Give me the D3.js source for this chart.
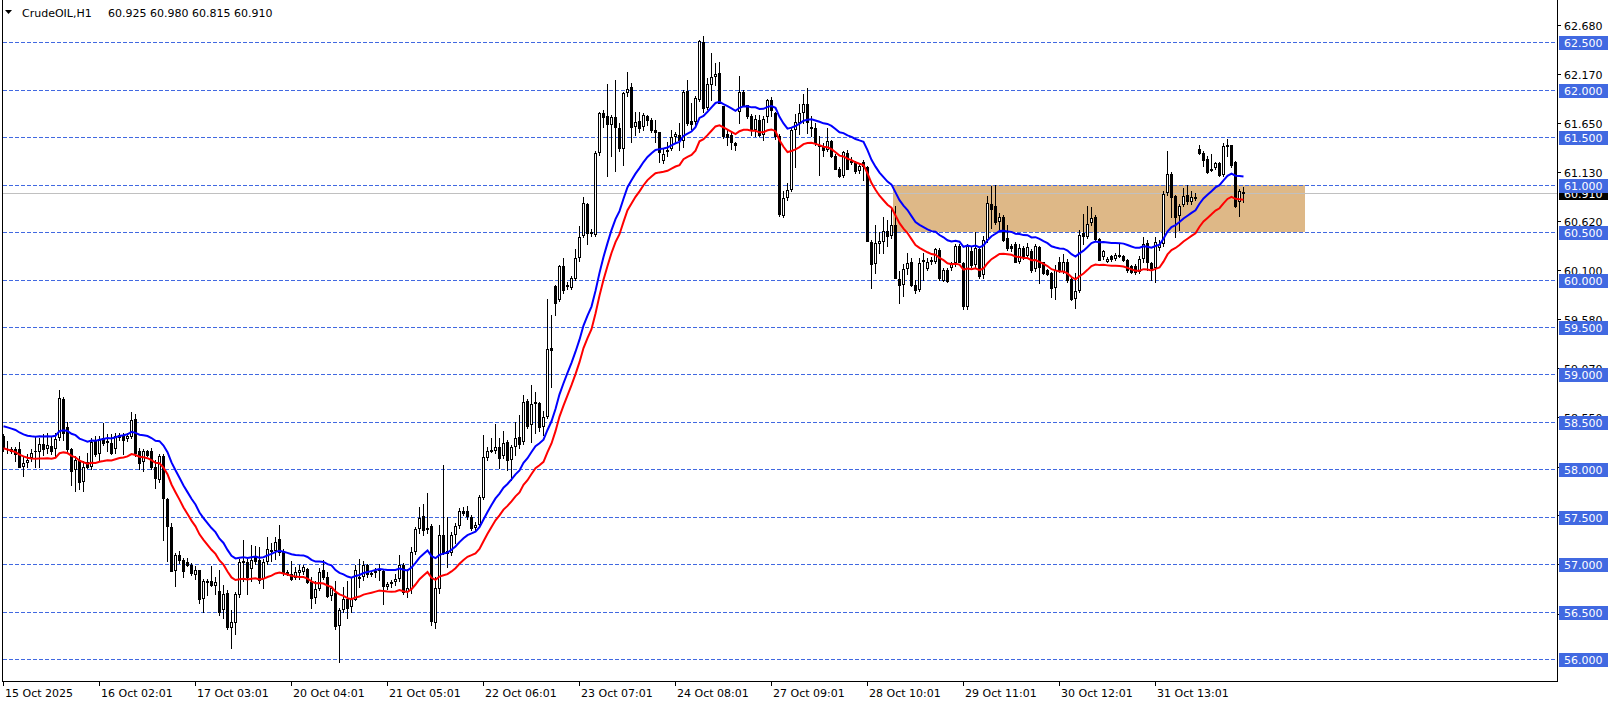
<!DOCTYPE html>
<html><head><meta charset="utf-8">
<script src="https://cdn.jsdelivr.net/npm/d3@7"></script>
<style>
html,body{margin:0;padding:0;background:#fff;overflow:hidden;}
svg{display:block;}
text{font-family:"DejaVu Sans",Verdana,sans-serif;font-size:11px;}
</style></head><body>
<svg id="chart" width="1614" height="705"></svg>
<script>
// ---------------- data ----------------
const symbolTitle = "CrudeOIL,H1";
const lastQuote = "60.925 60.980 60.815 60.910";

const opens = [
58.35,58.22,58.21,58.21,58.21,58.03,58.07,58.12,58.19,58.18,
58.27,58.22,58.25,58.22,58.33,58.74,58.45,58.22,57.99,58.10,
57.87,58.08,58.03,58.31,58.16,58.33,58.28,58.28,58.22,58.33,
58.35,58.32,58.34,58.53,58.19,58.08,58.19,58.19,58.02,57.89,
58.14,57.69,57.39,56.93,57.10,57.05,57.02,56.99,56.89,56.94,
56.63,56.82,56.82,56.77,56.72,56.52,56.70,56.33,56.38,56.68,
57.03,57.02,56.95,57.08,57.05,56.84,57.02,57.15,57.14,57.27,
57.13,56.92,56.90,56.86,56.91,56.92,56.95,56.81,56.65,56.74,
56.94,56.87,56.67,56.70,56.35,56.52,56.63,56.55,56.62,56.85,
56.87,56.99,56.90,56.92,56.93,56.93,56.76,56.79,56.81,56.84,
56.99,56.71,56.74,57.13,57.37,57.51,57.37,57.40,56.38,56.74,
57.31,57.14,57.12,57.31,57.40,57.56,57.56,57.50,57.38,57.41,
57.70,58.12,58.19,58.19,58.24,58.14,58.29,58.10,58.24,58.34,
58.29,58.72,58.47,58.69,58.70,58.45,58.55,59.28,59.93,59.78,
60.14,59.94,59.91,60.01,60.23,60.46,60.80,60.48,60.47,61.33,
61.75,61.72,61.63,61.71,61.60,61.38,61.97,62.03,61.61,61.67,
61.61,61.72,61.68,61.58,61.55,61.25,61.35,61.38,61.50,61.52,
61.46,61.99,61.67,61.66,61.89,62.50,61.81,62.05,62.13,62.18,
61.83,61.53,61.52,61.44,61.77,61.98,61.84,61.72,61.58,61.68,
61.52,61.71,61.89,61.76,61.51,60.67,60.86,60.94,61.58,61.65,
61.75,61.85,61.61,61.60,61.42,61.41,61.37,61.46,61.30,61.17,
61.09,61.33,61.25,61.24,61.14,61.24,61.19,60.40,60.16,60.38,
60.40,60.51,60.46,60.58,60.01,59.94,60.11,60.18,59.94,59.89,
60.18,60.11,60.18,60.19,60.31,59.99,60.10,60.12,60.17,60.35,
60.17,59.71,60.30,60.15,60.32,60.05,60.42,60.80,60.77,60.61,
60.66,60.44,60.35,60.37,60.18,60.33,60.25,60.30,60.11,60.34,
60.18,60.10,60.07,59.91,60.19,60.08,60.18,60.01,59.79,59.88,
60.49,60.45,60.60,60.66,60.43,60.24,60.19,60.25,60.22,60.26,
60.25,60.21,60.14,60.14,60.08,60.22,60.39,60.17,60.12,60.33,
60.37,60.91,61.11,60.88,60.67,60.79,60.89,60.82,60.86,61.38,
61.33,61.27,61.15,61.18,61.23,61.10,61.41,61.42,61.24,60.82,60.925
];
const highs = [
58.37,58.30,58.24,58.24,58.29,58.14,58.16,58.21,58.35,58.33,
58.37,58.38,58.35,58.38,58.84,58.76,58.50,58.23,58.14,58.14,
58.09,58.17,58.33,58.35,58.35,58.49,58.37,58.37,58.38,58.38,
58.38,58.38,58.60,58.58,58.23,58.21,58.20,58.23,58.10,58.16,
58.16,57.70,57.44,57.12,57.14,57.07,57.07,57.01,56.98,56.94,
56.84,56.84,56.98,56.87,56.94,56.78,56.73,56.52,56.71,57.06,
57.26,57.06,57.20,57.19,57.18,57.06,57.29,57.22,57.29,57.41,
57.16,56.94,57.03,56.97,56.99,56.99,56.96,56.87,56.82,56.96,
57.05,56.92,56.76,56.82,56.54,56.76,56.82,56.87,56.99,57.06,
57.03,57.00,56.93,56.96,57.00,56.94,56.81,56.83,56.90,57.10,
57.01,56.95,57.18,57.39,57.60,57.64,57.75,57.42,56.87,57.41,
58.05,57.50,57.34,57.43,57.59,57.60,57.61,57.52,57.45,57.73,
58.36,58.24,58.33,58.48,58.33,58.40,58.31,58.26,58.50,58.57,
58.78,58.74,58.89,58.82,58.71,58.61,59.80,59.63,59.94,60.15,
60.23,59.97,60.04,60.32,60.56,60.87,60.81,60.53,61.35,61.77,
61.79,62.06,61.73,62.10,61.65,61.98,62.19,62.07,61.77,61.77,
61.76,61.73,61.70,61.68,61.56,61.38,61.45,61.58,61.56,61.65,
62.00,62.10,61.86,61.93,62.52,62.57,62.12,62.39,62.28,62.29,
61.83,61.58,61.56,61.45,62.14,62.00,61.84,61.74,61.73,61.73,
61.72,61.90,61.92,61.77,61.53,60.93,61.02,61.60,61.74,61.85,
61.96,62.02,61.72,61.65,61.51,61.44,61.60,61.47,61.32,61.19,
61.35,61.36,61.29,61.25,61.22,61.26,61.20,60.42,60.58,60.50,
60.66,60.63,60.75,60.77,60.09,60.16,60.28,60.23,60.00,60.23,
60.28,60.23,60.24,60.33,60.33,60.12,60.12,60.19,60.38,60.38,
60.18,60.38,60.34,60.50,60.33,60.46,60.88,60.99,61.00,60.70,
60.68,60.57,60.38,60.40,60.37,60.35,60.39,60.32,60.38,60.35,
60.19,60.11,60.08,60.15,60.24,60.27,60.22,60.03,60.07,60.52,
60.69,60.77,60.76,60.68,60.44,60.31,60.24,60.26,60.28,60.37,
60.26,60.22,60.15,60.16,60.25,60.45,60.42,60.19,60.45,60.42,
60.93,61.35,61.13,60.89,60.80,60.97,61.00,60.93,60.91,61.42,
61.35,61.30,61.32,61.24,61.24,61.44,61.48,61.42,61.25,60.95,60.98
];
const lows = [
58.19,58.17,58.17,58.09,58.02,57.93,58.02,58.09,58.03,58.03,
58.15,58.17,58.16,58.14,58.31,58.31,58.19,57.84,57.77,57.79,
57.77,58.01,58.00,58.14,58.10,58.26,58.19,58.16,58.17,58.31,
58.16,58.30,58.33,58.14,58.00,57.98,58.14,58.00,57.80,57.87,
57.26,57.03,56.93,56.77,57.01,56.87,56.98,56.89,56.84,56.59,
56.50,56.68,56.77,56.69,56.47,56.43,56.32,56.12,56.27,56.66,
56.82,56.69,56.82,57.00,56.80,56.75,57.00,57.03,57.06,57.10,
56.89,56.89,56.83,56.85,56.85,56.90,56.80,56.54,56.59,56.73,
56.85,56.66,56.62,56.32,55.97,56.50,56.43,56.50,56.62,56.76,
56.83,56.87,56.88,56.87,56.83,56.58,56.74,56.76,56.78,56.82,
56.69,56.66,56.70,57.11,57.33,57.31,57.33,56.36,56.33,56.70,
57.11,56.97,57.10,57.22,57.38,57.52,57.48,57.36,57.35,57.40,
57.69,58.10,58.18,58.17,58.01,58.12,57.99,57.89,58.15,58.23,
58.27,58.44,58.29,58.38,58.40,58.36,58.54,58.87,59.63,59.77,
59.86,59.90,59.90,60.00,60.20,60.45,60.37,60.46,60.46,61.31,
61.61,61.09,61.30,61.14,61.35,61.21,61.93,61.45,61.52,61.56,
61.58,61.63,61.56,61.45,61.24,61.23,61.30,61.37,61.44,61.37,
61.40,61.63,61.59,61.63,61.88,61.77,61.80,61.89,62.05,61.86,
61.49,61.42,61.38,61.36,61.65,61.83,61.70,61.52,61.51,61.51,
61.47,61.66,61.72,61.48,60.67,60.66,60.84,60.93,61.19,61.53,
61.65,61.54,61.51,61.42,61.10,61.30,61.35,61.29,61.16,61.08,
61.08,61.16,61.22,61.12,61.12,61.05,60.41,59.91,60.07,60.28,
60.28,60.35,60.44,60.02,59.75,59.83,60.06,59.93,59.86,59.88,
60.00,60.10,60.16,60.17,60.00,59.98,59.97,60.10,60.14,60.18,
59.69,59.69,60.13,60.12,60.02,60.02,60.40,60.54,60.59,60.52,
60.41,60.31,60.30,60.18,60.17,60.22,60.23,60.08,60.09,59.96,
60.06,60.05,59.82,59.80,60.08,60.07,59.97,59.78,59.70,59.87,
60.37,60.44,60.58,60.42,60.21,60.22,60.18,60.20,60.21,60.24,
60.20,60.08,60.07,60.06,60.07,60.19,60.10,60.00,59.97,60.31,
60.35,60.89,60.66,60.45,60.52,60.77,60.80,60.80,60.84,61.32,
61.20,61.12,61.14,61.16,61.09,61.09,61.30,61.19,60.76,60.67,60.815
];
const closes = [
58.23,58.21,58.19,58.16,58.02,58.07,58.10,58.17,58.19,58.27,
58.22,58.26,58.19,58.32,58.75,58.38,58.22,57.98,58.10,57.87,
58.03,58.03,58.29,58.16,58.31,58.28,58.30,58.17,58.35,58.36,
58.31,58.35,58.52,58.17,58.07,58.19,58.15,58.02,57.91,58.14,
57.70,57.40,56.93,57.10,57.05,56.93,56.99,56.91,56.94,56.63,
56.82,56.81,56.78,56.81,56.50,56.69,56.34,56.39,56.69,57.02,
57.02,56.87,57.04,57.03,56.83,57.02,57.16,57.14,57.23,57.13,
56.92,56.90,56.85,56.92,56.94,56.97,56.81,56.65,56.74,56.92,
56.87,56.67,56.75,56.35,56.52,56.63,56.54,56.63,56.94,56.87,
56.99,56.90,56.91,56.93,56.95,56.77,56.79,56.81,56.84,56.99,
56.71,56.75,57.13,57.37,57.49,57.36,57.38,56.40,56.75,57.31,
57.13,57.12,57.31,57.40,57.56,57.54,57.51,57.38,57.41,57.71,
58.13,58.19,58.20,58.24,58.12,58.28,58.10,58.24,58.33,58.27,
58.71,58.46,58.69,58.71,58.45,58.55,59.27,59.26,59.75,60.14,
59.89,59.93,60.02,60.23,60.45,60.81,60.49,60.50,61.33,61.75,
61.71,61.64,61.71,61.61,61.39,61.97,62.01,61.61,61.66,61.60,
61.73,61.68,61.58,61.56,61.34,61.32,61.37,61.50,61.53,61.47,
61.98,61.65,61.64,61.91,62.51,61.81,62.06,62.13,62.17,61.86,
61.51,61.50,61.45,61.42,61.98,61.84,61.72,61.58,61.69,61.52,
61.69,61.89,61.79,61.51,60.69,60.86,60.94,61.58,61.66,61.75,
61.85,61.66,61.60,61.44,61.41,61.37,61.46,61.30,61.16,61.09,
61.34,61.17,61.24,61.14,61.20,61.20,60.41,60.16,60.39,60.41,
60.51,60.46,60.58,60.02,59.94,60.11,60.17,59.94,59.89,60.17,
60.21,60.19,60.21,60.32,60.02,60.10,59.99,60.17,60.35,60.19,
59.72,60.35,60.15,60.33,60.04,60.42,60.81,60.74,60.61,60.66,
60.42,60.33,60.33,60.18,60.33,60.24,60.34,60.10,60.35,60.13,
60.07,60.06,59.91,60.10,60.10,60.19,60.00,59.79,59.88,60.47,
60.46,60.59,60.65,60.43,60.21,60.30,60.22,60.22,60.26,60.25,
60.21,60.10,60.08,60.08,60.22,60.38,60.19,60.12,60.40,60.38,
60.90,61.11,60.87,60.66,60.78,60.88,60.83,60.87,60.87,61.33,
61.26,61.13,61.17,61.23,61.10,61.41,61.42,61.21,60.77,60.93,60.91
];

// time axis labels and the bar each one belongs to
const timeLabels = ["15 Oct 2025","16 Oct 02:01","17 Oct 03:01","20 Oct 04:01","21 Oct 05:01","22 Oct 06:01",
  "23 Oct 07:01","24 Oct 08:01","27 Oct 09:01","28 Oct 10:01","29 Oct 11:01","30 Oct 12:01","31 Oct 13:01"];
const timeLabelBars = [0,24,48,72,96,120,144,168,192,216,240,264,288];

// price axis ticks, horizontal level lines, bid
const priceTicks = [62.68,62.17,61.65,61.13,60.62,60.10,59.58,59.07,58.55,58.03,57.52,57.00,56.48];
const levelLines = [62.5,62.0,61.5,61.0,60.5,60.0,59.5,59.0,58.5,58.0,57.5,57.0,56.5,56.0];
const bidPrice = 60.910;

// supply/demand zone (bar anchors and prices)
const zoneBars = [222.5, 325.5];
const zonePrices = [61.0, 60.5];

// envelope indicator settings (EMA of close, deviation %)
const envPeriod = 20;
const envDeviation = 0.2;
const envStart = 58.35;

// ---------------- drawing ----------------
const svg = d3.select("#chart");
const plotL = 2, plotR = 1557, plotB = 681;
const nBars = closes.length;
const x = d3.scaleLinear().domain([0, 310]).range([3, 1243]);
const y = d3.scaleLinear().domain([56.0, 62.5]).range([659.2, 42.3]);
const crisp = v => Math.round(v) + 0.5;

svg.append("rect").attr("width",1614).attr("height",705).attr("fill","#fff");

// zone
svg.append("rect")
  .attr("x", Math.round(x(zoneBars[0])))
  .attr("y", Math.round(y(zonePrices[0])))
  .attr("width", Math.round(x(zoneBars[1])) - Math.round(x(zoneBars[0])))
  .attr("height", Math.round(y(zonePrices[1])) - Math.round(y(zonePrices[0])))
  .attr("fill", "#DEB887");

// bid line
svg.append("line").attr("x1",plotL).attr("x2",plotR)
  .attr("y1",crisp(y(bidPrice))).attr("y2",crisp(y(bidPrice)))
  .attr("stroke","#C0C0C0").attr("stroke-width",1);

// level lines
svg.append("g").selectAll("line").data(levelLines).join("line")
  .attr("x1",plotL+1).attr("x2",plotR)
  .attr("y1",d=>crisp(y(d))).attr("y2",d=>crisp(y(d)))
  .attr("stroke","#4169E1").attr("stroke-width",1).attr("stroke-dasharray","4,2");

// candles
const gC = svg.append("g");
for (let i = 0; i < nBars; i++) {
  const o = opens[i], h = highs[i], l = lows[i], c = closes[i];
  const cx = Math.round(x(i));
  const yh = Math.round(y(Math.max(h, o, c))), yl = Math.round(y(Math.min(l, o, c)));
  gC.append("rect").attr("x", cx).attr("y", yh).attr("width", 1).attr("height", yl - yh + 1).attr("fill", "#000");
  const yo = Math.round(y(o)), yc = Math.round(y(c));
  if (c > o && yo - yc >= 2) {
    gC.append("rect").attr("x", cx - 0.5).attr("y", yc + 0.5).attr("width", 2).attr("height", yo - yc - 1)
      .attr("fill", "#fff").attr("stroke", "#000").attr("stroke-width", 1);
  } else if (c < o && yc - yo >= 1) {
    gC.append("rect").attr("x", cx - 1).attr("y", yo).attr("width", 3).attr("height", yc - yo + 1).attr("fill", "#000");
  } else {
    gC.append("rect").attr("x", cx - 1).attr("y", Math.min(yo, yc)).attr("width", 3).attr("height", Math.abs(yo - yc) + 1).attr("fill", "#000");
  }
}

// envelopes
const alpha = 2 / (envPeriod + 1);
let ema = envStart;
const mid = closes.map(c => (ema = ema + alpha * (c - ema)));
const upper = mid.map(m => m * (1 + envDeviation / 100));
const lower = mid.map(m => m * (1 - envDeviation / 100));
const line = d3.line().x((d, i) => x(i) + 0.5).y(d => y(d));
svg.append("path").attr("d", line(upper)).attr("fill","none").attr("stroke","#0000FF").attr("stroke-width",2);
svg.append("path").attr("d", line(lower)).attr("fill","none").attr("stroke","#FF0000").attr("stroke-width",2);

// frame
svg.append("line").attr("x1",plotL+0.5).attr("x2",plotL+0.5).attr("y1",0).attr("y2",plotB+1).attr("stroke","#000");
svg.append("line").attr("x1",plotR+0.5).attr("x2",plotR+0.5).attr("y1",0).attr("y2",plotB+1).attr("stroke","#000");
svg.append("line").attr("x1",plotL).attr("x2",plotR+1).attr("y1",plotB+0.5).attr("y2",plotB+0.5).attr("stroke","#000");

// price axis ticks + labels
const gA = svg.append("g");
priceTicks.forEach(t => {
  const ty = Math.round(y(t));
  gA.append("line").attr("x1",plotR+1).attr("x2",plotR+4).attr("y1",ty+0.5).attr("y2",ty+0.5).attr("stroke","#000");
  gA.append("text").attr("x",1564).attr("y",ty+4.5).attr("fill","#000").text(t.toFixed(3));
});
// bid label
{
  const by = Math.round(y(bidPrice));
  gA.append("rect").attr("x",1559).attr("y",by-7).attr("width",49).attr("height",14).attr("fill","#000");
  gA.append("text").attr("x",1564).attr("y",by+4.5).attr("fill","#fff").text(bidPrice.toFixed(3));
}
// level labels
levelLines.forEach(l => {
  const ly = Math.round(y(l));
  gA.append("rect").attr("x",1559).attr("y",ly-6).attr("width",49).attr("height",14).attr("fill","#4169E1");
  gA.append("text").attr("x",1564).attr("y",ly+5).attr("fill","#fff").text(l.toFixed(3));
});

// time axis
timeLabels.forEach((lab, k) => {
  const tx = Math.round(x(timeLabelBars[k]));
  gA.append("line").attr("x1",tx+0.5).attr("x2",tx+0.5).attr("y1",plotB+1).attr("y2",plotB+5).attr("stroke","#000");
  gA.append("text").attr("x",tx+2).attr("y",697).attr("fill","#000").text(lab);
});

// title
svg.append("path").attr("d","M5,10 L12,10 L8.5,14 Z").attr("fill","#000");
svg.append("text").attr("x",22).attr("y",17).attr("fill","#000").text(symbolTitle);
svg.append("text").attr("x",108).attr("y",17).attr("fill","#000").text(lastQuote);
</script>
</body></html>
